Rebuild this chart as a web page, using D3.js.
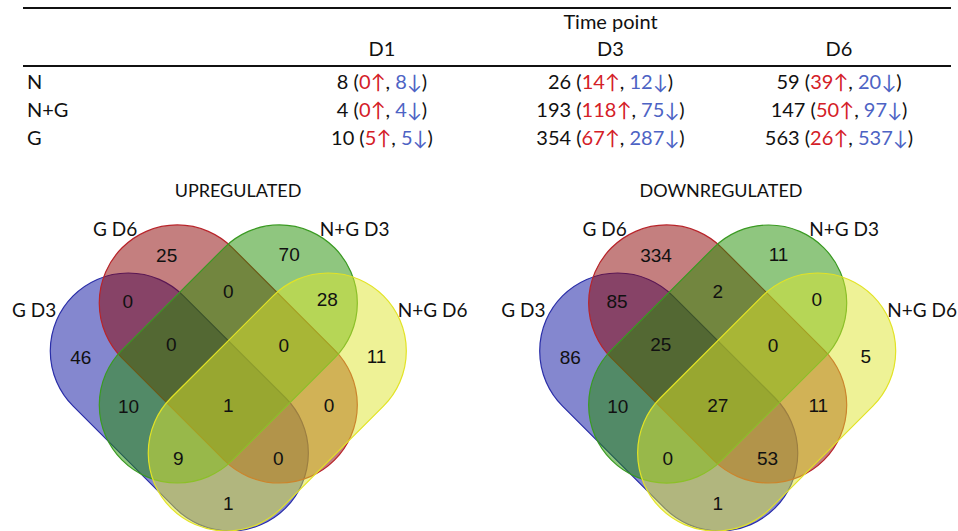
<!DOCTYPE html>
<html>
<head>
<meta charset="utf-8">
<script src="https://cdn.jsdelivr.net/npm/d3@7"></script>
<style>
  body { margin: 0; background: #fff; }
  svg { display: block; }
</style>
</head>
<body>
<div id="chart"></div>
<script>
// ---- table data ----
const groups = ["N", "N+G", "G"];
const timePoints = ["D1", "D3", "D6"];
const totalDEGs = [[8, 26, 59], [4, 193, 147], [10, 354, 563]];
const upDEGs = [[0, 14, 39], [0, 118, 50], [5, 67, 26]];
const downDEGs = [[8, 12, 20], [4, 75, 97], [5, 287, 537]];

// ---- venn data (region key = membership in G D3, G D6, N+G D3, N+G D6) ----
const vennSets = ["G D3", "G D6", "N+G D3", "N+G D6"];
const vennRegions = ["1000", "0100", "0010", "0001", "1100", "0110", "0011", "1010",
  "0101", "1001", "1110", "0111", "1011", "1101", "1111"];
const upCounts = [46, 25, 70, 11, 0, 0, 28, 10, 0, 1, 0, 0, 9, 0, 1];
const downCounts = [86, 334, 11, 5, 85, 2, 0, 10, 11, 1, 25, 0, 0, 53, 27];

const width = 958, height = 531;
const textFont = "Lato, 'Open Sans', sans-serif";
const numFont = "'Liberation Sans', Arial, sans-serif";
const red = "#d42027", blue = "#4d63c4";

const svg = d3.select("#chart").append("svg")
  .attr("width", width).attr("height", height);

// ---------------- table ----------------
const colX = d3.scalePoint().domain(timePoints).range([382, 839]);
const rowY = d3.scalePoint().domain(groups).range([89, 145]);

const table = svg.append("g").style("font-family", textFont).style("font-size", "20px").attr("fill", "#111");

[8, 66].forEach((y) => {
  table.append("line").attr("x1", 23).attr("x2", 951).attr("y1", y).attr("y2", y)
    .attr("stroke", "#111").attr("stroke-width", 2);
});

table.append("text").attr("x", colX("D3")).attr("y", 29).attr("text-anchor", "middle").text("Time point");

table.selectAll(".colhead").data(timePoints).enter().append("text")
  .attr("x", (d) => colX(d)).attr("y", 56).attr("text-anchor", "middle").text((d) => d);

table.selectAll(".rowhead").data(groups).enter().append("text")
  .attr("x", 27).attr("y", (d) => rowY(d)).text((d) => d);

groups.forEach((g, i) => {
  timePoints.forEach((t, j) => {
    const txt = table.append("text").attr("x", colX(t)).attr("y", rowY(g)).attr("text-anchor", "middle");
    txt.append("tspan").text(`${totalDEGs[i][j]} (`);
    txt.append("tspan").attr("fill", red).text(`${upDEGs[i][j]}\u2191`);
    txt.append("tspan").text(", ");
    txt.append("tspan").attr("fill", blue).text(`${downDEGs[i][j]}\u2193`);
    txt.append("tspan").text(")");
  });
});

// ---------------- venn diagrams ----------------
const R = 78; // capsule radius, px
// capsule end centres in units of the radius, relative to the diagram centre
const shapes = [
  { c1: [-1.282, -0.692], c2: [0.026, 0.615], fill: "#0a10a0", stroke: "#2a2ea8" },
  { c1: [-0.654, -1.308], c2: [0.654, 0], fill: "#890000", stroke: "#b8242a" },
  { c1: [0.654, -1.308], c2: [-0.654, 0], fill: "#1f8d00", stroke: "#3a9a22" },
  { c1: [1.282, -0.692], c2: [-0.026, 0.615], fill: "#dde52d", stroke: "#e2e326" },
];
const regionPos = {
  "1000": [-1.89, -0.61], "0100": [-0.79, -1.92], "0010": [0.78, -1.94], "0001": [1.90, -0.62],
  "1100": [-1.29, -1.33], "0110": [0, -1.46], "0011": [1.27, -1.36], "1010": [-1.28, 0.02],
  "0101": [1.29, 0], "1001": [0, 1.26], "1110": [-0.73, -0.78], "0111": [0.71, -0.77],
  "1011": [-0.64, 0.68], "1101": [0.64, 0.68], "1111": [0, 0],
};
const setLabelPos = [[-2.49, -1.22], [-1.45, -2.26], [1.62, -2.26], [2.62, -1.22]];

const panels = [
  { title: "UPREGULATED", cx: 228.3, titleX: 238, values: upCounts },
  { title: "DOWNREGULATED", cx: 717.7, titleX: 721, values: downCounts },
];
const cy = 405;

const capsule = (c1, c2, r) => {
  const dx = c2[0] - c1[0], dy = c2[1] - c1[1];
  const L = Math.hypot(dx, dy);
  const nx = -dy / L, ny = dx / L;
  const a = Math.atan2(ny, nx);
  const p = d3.path();
  p.moveTo(c1[0] + r * nx, c1[1] + r * ny);
  p.lineTo(c2[0] + r * nx, c2[1] + r * ny);
  p.arc(c2[0], c2[1], r, a, a - Math.PI, true);
  p.lineTo(c1[0] - r * nx, c1[1] - r * ny);
  p.arc(c1[0], c1[1], r, a + Math.PI, a, true);
  p.closePath();
  return p.toString();
};

panels.forEach((panel) => {
  const x = d3.scaleLinear().domain([-1, 1]).range([panel.cx - R, panel.cx + R]);
  const y = d3.scaleLinear().domain([-1, 1]).range([cy - R, cy + R]);
  const g = svg.append("g");

  g.append("text").attr("x", panel.titleX).attr("y", 197).attr("text-anchor", "middle")
    .style("font-family", textFont).style("font-size", "18px").attr("fill", "#111")
    .text(panel.title);

  g.selectAll(".set").data(shapes).enter().append("path")
    .attr("d", (d) => capsule([x(d.c1[0]), y(d.c1[1])], [x(d.c2[0]), y(d.c2[1])], R))
    .attr("fill", (d) => d.fill).attr("fill-opacity", 0.5)
    .attr("stroke", (d) => d.stroke).attr("stroke-width", 1.2);

  g.selectAll(".setlabel").data(vennSets).enter().append("text")
    .attr("x", (d, i) => x(setLabelPos[i][0])).attr("y", (d, i) => y(setLabelPos[i][1]))
    .attr("dy", "0.36em").attr("text-anchor", "middle")
    .style("font-family", textFont).style("font-size", "19px").attr("fill", "#111")
    .text((d) => d);

  g.selectAll(".count").data(vennRegions).enter().append("text")
    .attr("x", (d) => x(regionPos[d][0])).attr("y", (d) => y(regionPos[d][1]))
    .attr("dy", "0.36em").attr("text-anchor", "middle")
    .style("font-family", numFont).style("font-size", "19px").attr("fill", "#111")
    .text((d, i) => panel.values[i]);
});
</script>
</body>
</html>
